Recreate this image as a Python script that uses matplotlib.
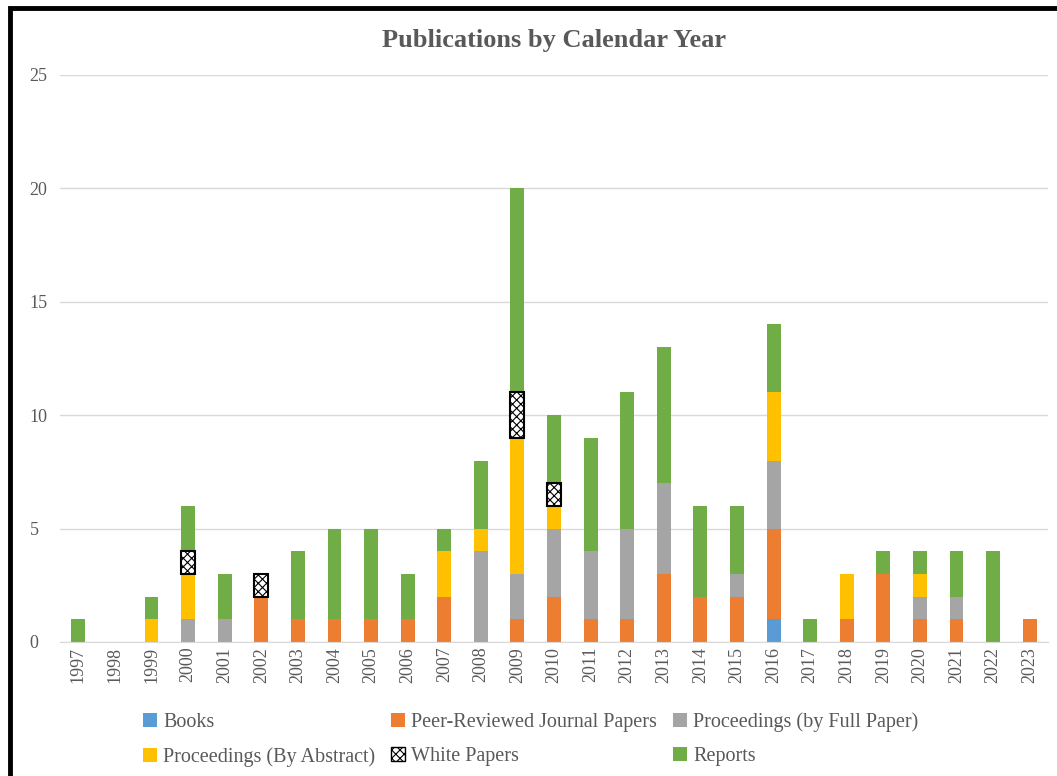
import matplotlib
matplotlib.use("Agg")
import matplotlib.pyplot as plt
import numpy as np
from matplotlib.patches import Rectangle, Patch

years = [str(y) for y in range(1997, 2024)]

books    = [0, 0, 0, 0, 0, 0, 0, 0, 0, 0, 0, 0, 0, 0, 0, 0, 0, 0, 0, 1, 0, 0, 0, 0, 0, 0, 0]
journal  = [0, 0, 0, 0, 0, 2, 1, 1, 1, 1, 2, 0, 1, 2, 1, 1, 3, 2, 2, 4, 0, 1, 3, 1, 1, 0, 1]
full     = [0, 0, 0, 1, 1, 0, 0, 0, 0, 0, 0, 4, 2, 3, 3, 4, 4, 0, 1, 3, 0, 0, 0, 1, 1, 0, 0]
abstract = [0, 0, 1, 2, 0, 0, 0, 0, 0, 0, 2, 1, 6, 1, 0, 0, 0, 0, 0, 3, 0, 2, 0, 1, 0, 0, 0]
white    = [0, 0, 0, 1, 0, 1, 0, 0, 0, 0, 0, 0, 2, 1, 0, 0, 0, 0, 0, 0, 0, 0, 0, 0, 0, 0, 0]
reports  = [1, 0, 1, 2, 2, 0, 3, 4, 4, 2, 1, 3, 9, 3, 5, 6, 6, 4, 3, 3, 1, 0, 1, 1, 2, 4, 0]

series = [
    ("Books", books, "#5B9BD5"),
    ("Peer-Reviewed Journal Papers", journal, "#ED7D31"),
    ("Proceedings (by Full Paper)", full, "#A5A5A5"),
    ("Proceedings (By Abstract)", abstract, "#FFC000"),
    ("White Papers", white, "white"),
    ("Reports", reports, "#70AD47"),
]

plt.rcParams["font.family"] = ["Liberation Serif", "DejaVu Serif"]
plt.rcParams["hatch.linewidth"] = 0.8

fig = plt.figure(figsize=(10.57, 7.76), dpi=100)
ax = fig.add_axes([0.0568, 0.1727, 0.9347, 0.7307])

x = np.arange(len(years))
bottom = np.zeros(len(years))
handles = {}
for name, vals, color in series:
    vals = np.array(vals, dtype=float)
    m = vals > 0
    if name == "White Papers":
        ax.bar(x[m], vals[m], width=0.38, bottom=bottom[m], color="white",
               edgecolor="black", hatch="xxxx", linewidth=1.5, zorder=3)
        handles[name] = Patch(facecolor="white", edgecolor="black",
                              hatch="xxxx", linewidth=1.0)
    else:
        ax.bar(x[m], vals[m], width=0.38, bottom=bottom[m], color=color,
               linewidth=0, zorder=2)
        handles[name] = Patch(facecolor=color, edgecolor="none")
    bottom += vals

ax.set_xlim(-0.5, len(years) - 0.5)
ax.set_ylim(0, 25)
ax.set_yticks([0, 5, 10, 15, 20, 25])
ax.set_xticks(x)
ax.set_xticklabels(years, rotation=90)
ax.tick_params(axis="both", length=0, colors="#595959", labelsize=13)
ax.tick_params(axis="y", pad=22)
for lbl in ax.get_yticklabels():
    lbl.set_horizontalalignment("left")
ax.grid(axis="y", color="#D9D9D9", linewidth=1, zorder=0)
for side in ["top", "right", "left"]:
    ax.spines[side].set_visible(False)
ax.spines["bottom"].set_color("#D9D9D9")

ax.set_title("Publications by Calendar Year", fontsize=19, fontweight="bold",
             color="#595959", pad=20)

order = ["Books", "Proceedings (By Abstract)", "Peer-Reviewed Journal Papers",
         "White Papers", "Proceedings (by Full Paper)", "Reports"]
leg = fig.legend([handles[n] for n in order], order, ncol=3,
                 loc="center left", bbox_to_anchor=(0.118, 0.047),
                 frameon=False, fontsize=14.5, handlelength=0.7, handleheight=0.7,
                 handletextpad=0.3, columnspacing=0.8, labelspacing=0.75)
for t in leg.get_texts():
    t.set_color("#595959")

# outer black frame
fig.patches.append(Rectangle((0.0095, -0.02), 0.995, 1.01, transform=fig.transFigure,
                             fill=False, edgecolor="black", linewidth=3.5))

fig.savefig("out.png", dpi=100)
